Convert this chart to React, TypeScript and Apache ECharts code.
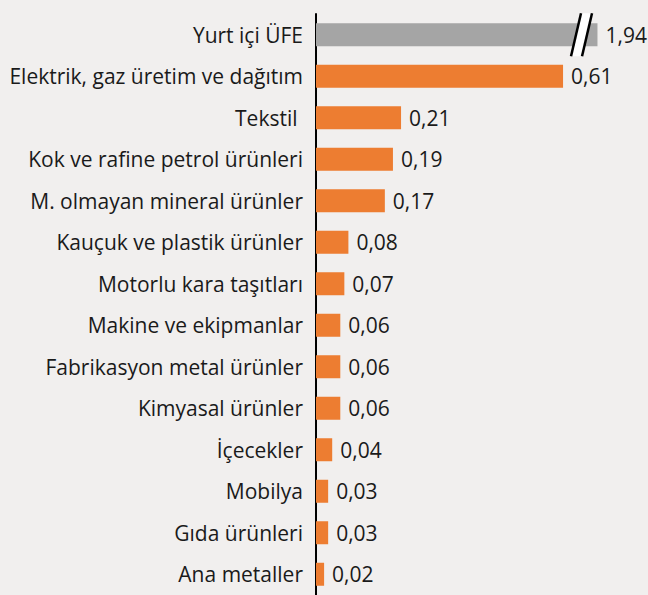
import React, { useEffect, useRef } from "react";
import * as echarts from "echarts";

const categories = [
  "Yurt içi ÜFE",
  "Elektrik, gaz üretim ve dağıtım",
  "Tekstil ",
  "Kok ve rafine petrol ürünleri",
  "M. olmayan mineral ürünler",
  "Kauçuk ve plastik ürünler",
  "Motorlu kara taşıtları",
  "Makine ve ekipmanlar",
  "Fabrikasyon metal ürünler",
  "Kimyasal ürünler",
  "İçecekler",
  "Mobilya",
  "Gıda ürünleri",
  "Ana metaller",
];
const values = [1.94, 0.61, 0.21, 0.19, 0.17, 0.08, 0.07, 0.06, 0.06, 0.06, 0.04, 0.03, 0.03, 0.02];
const axisMax = 0.8;
const breakCap = 0.695; // drawn length of the truncated (broken) bar
const breakAt = 0.6556; // position of the break marks

const FONT = "Open Sans";
const FS = 21;

export default function App() {
  const ref = useRef<HTMLDivElement>(null);
  useEffect(() => {
    const chart = echarts.init(ref.current!, null, { renderer: "svg" });
    const data = values.map((v, i) => ({
      value: Math.min(v, breakCap),
      itemStyle: { color: i === 0 ? "#a5a5a5" : "#ed7d31" },
    }));
    chart.setOption({
      animation: false,
      backgroundColor: "#f1efee",
      grid: { left: 316, right: 8, top: 14, bottom: -4 },
      xAxis: { type: "value", min: 0, max: axisMax, show: false },
      yAxis: {
        type: "category",
        data: categories,
        inverse: true,
        axisLine: { lineStyle: { color: "#000", width: 2 } },
        axisTick: { show: false },
        axisLabel: { color: "#1a1a1a", fontSize: FS, fontFamily: FONT, margin: 13 },
      },
      series: [
        {
          type: "bar",
          data,
          barWidth: 23,
          label: {
            show: true,
            position: "right",
            distance: 8,
            color: "#1a1a1a",
            fontSize: FS,
            fontFamily: FONT,
            formatter: (p: any) => values[p.dataIndex].toFixed(2).replace(".", ","),
          },
        },
      ],
    });
    const c = chart.convertToPixel({ xAxisIndex: 0, yAxisIndex: 0 }, [breakAt, categories[0]]) as number[];
    const cx = c[0];
    const cy = c[1];
    const h = 21.5;
    const dx = 5;
    const gap = 11;
    const l1 = cx - gap / 2;
    const l2 = cx + gap / 2;
    chart.setOption({
      graphic: [
        {
          type: "polygon",
          shape: {
            points: [
              [l1 - dx, cy + h],
              [l1 + dx, cy - h],
              [l2 + dx, cy - h],
              [l2 - dx, cy + h],
            ],
          },
          style: { fill: "#ffffff" },
          z: 100,
        },
        {
          type: "line",
          shape: { x1: l1 - dx, y1: cy + h, x2: l1 + dx, y2: cy - h },
          style: { stroke: "#000", lineWidth: 2.5 },
          z: 101,
        },
        {
          type: "line",
          shape: { x1: l2 - dx, y1: cy + h, x2: l2 + dx, y2: cy - h },
          style: { stroke: "#000", lineWidth: 2.5 },
          z: 101,
        },
      ],
    });
    return () => chart.dispose();
  }, []);
  return <div ref={ref} style={{ position: "absolute", left: 0, top: 0, width: 648, height: 595 }} />;
}
